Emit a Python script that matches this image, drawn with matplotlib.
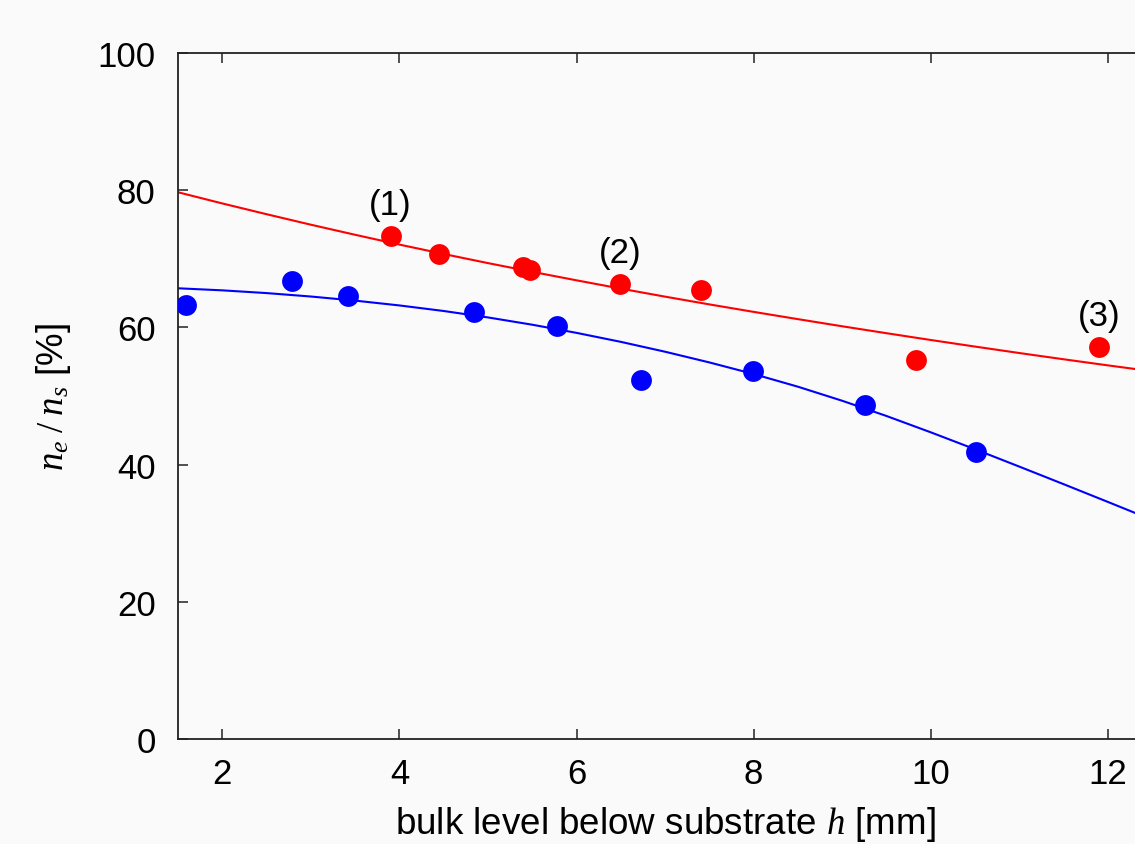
import numpy as np
import matplotlib.pyplot as plt

plt.rcParams['font.family'] = ['Liberation Sans', 'DejaVu Sans']
plt.rcParams['mathtext.fontset'] = 'custom'
plt.rcParams['mathtext.it'] = 'Liberation Serif:italic'
plt.rcParams['mathtext.rm'] = 'Liberation Serif'

# measured points, red series
h_red = [3.90, 4.45, 5.39, 5.47, 6.49, 7.41, 9.83, 11.90]
r_red = [73.3, 70.7, 68.8, 68.4, 66.3, 65.5, 55.2, 57.1]
red_tags = {0: '(1)', 4: '(2)', 7: '(3)'}

# measured points, blue series
h_blue = [1.59, 2.79, 3.42, 4.84, 5.78, 6.73, 7.99, 9.26, 10.51]
r_blue = [63.3, 66.8, 64.6, 62.2, 60.2, 52.3, 53.6, 48.7, 41.8]

# fit curves (every half mm)
fit_h = [1.5, 2.0, 2.5, 3.0, 3.5, 4.0, 4.5, 5.0, 5.5, 6.0, 6.5, 7.0,
         7.5, 8.0, 8.5, 9.0, 9.5, 10.0, 10.5, 11.0, 11.5, 12.0, 12.5]
fit_r_red = [79.7, 78.07, 76.5, 74.97, 73.5, 72.07, 70.7, 69.37, 68.1, 66.86, 65.65, 64.48,
             63.35, 62.26, 61.2, 60.16, 59.15, 58.16, 57.2, 56.26, 55.35, 54.46, 53.6]
fit_r_blue = [65.7, 65.4, 65.0, 64.5, 63.9, 63.2, 62.39, 61.45, 60.39, 59.2, 57.89, 56.45,
              54.89, 53.2, 51.35, 49.3, 47.08, 44.7, 42.23, 39.7, 37.14, 34.55, 31.94]

x_ticks = [2, 4, 6, 8, 10, 12]
y_ticks = [0, 20, 40, 60, 80, 100]

bg = '#fafafa'
fig = plt.figure(figsize=(11.35, 8.45), dpi=100, facecolor=bg)
ax = fig.add_axes([0.1568, 0.1243, 0.8584, 0.8118], facecolor=bg)

ax.plot(fit_h, fit_r_red, color='#ff0000', lw=1.5, zorder=2)
ax.plot(fit_h, fit_r_blue, color='#0000ff', lw=1.5, zorder=2)
ax.plot(h_red, r_red, 'o', color='#ff0000', ms=15, mew=0, zorder=3)
ax.plot(h_blue, r_blue, 'o', color='#0000ff', ms=15, mew=0, zorder=3)

for i, tag in red_tags.items():
    ax.annotate(tag, (h_red[i], r_red[i]), xytext=(0, 23), textcoords='offset points',
                ha='center', va='center', fontsize=25)

ax.set_xlim(1.5, 12.5)
ax.set_ylim(0, 100)
ax.set_xticks(x_ticks)
ax.set_yticks(y_ticks)
ax.tick_params(axis='both', direction='in', length=7, width=1.1, labelsize=25,
               top=True, right=True, color='#222222')
ax.tick_params(axis='x', pad=13)
ax.tick_params(axis='y', pad=16)
for s in ax.spines.values():
    s.set_linewidth(1.3)
    s.set_color('#222222')

ax.set_xlabel('bulk level below substrate $h$ [mm]', fontsize=26.5, labelpad=10)
ax.set_ylabel(r'$n_e\;/\;n_s$ [%]', fontsize=26.5, labelpad=18)

fig.savefig('out.png', dpi=100, facecolor=bg)
